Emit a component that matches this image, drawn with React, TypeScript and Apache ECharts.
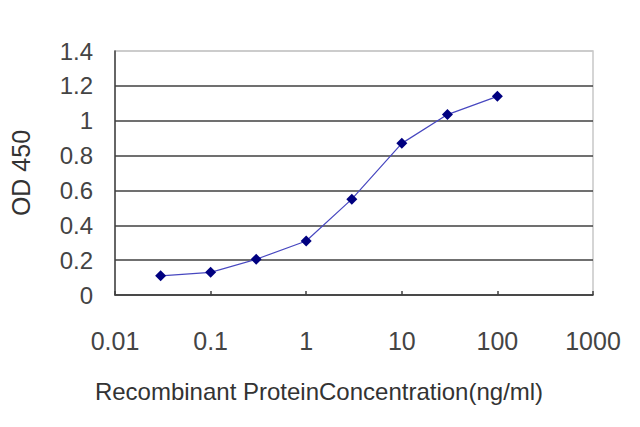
import { useEffect, useRef } from 'react';
import * as echarts from 'echarts';

const concentrations = [0.03, 0.1, 0.3, 1, 3, 10, 30, 100];
const od450 = [0.11, 0.13, 0.205, 0.31, 0.55, 0.87, 1.035, 1.14];
const yTicks = [0, 0.2, 0.4, 0.6, 0.8, 1, 1.2, 1.4];
const xTickLabels = ['0.01', '0.1', '1', '10', '100', '1000'];

export default function App() {
  const chartRef = useRef<HTMLDivElement>(null);

  useEffect(() => {
    document.body.style.margin = '0';
    if (!chartRef.current) return;
    const chart = echarts.init(chartRef.current, undefined, { renderer: 'svg' });

    const font = 'Liberation Sans, Arial, sans-serif';
    // top grid line is drawn light, like the frame
    const gridColors = yTicks.map((_, i) => (i === yTicks.length - 1 ? '#c8c8c8' : '#404040'));

    chart.setOption({
      animation: false,
      backgroundColor: '#ffffff',
      grid: {
        left: 115,
        right: 47,
        top: 51,
        bottom: 132,
        show: true,
        borderColor: '#c8c8c8',
        borderWidth: 1.5,
      },
      xAxis: {
        type: 'log',
        logBase: 10,
        min: 0.01,
        max: 1000,
        name: 'Recombinant ProteinConcentration(ng/ml)',
        nameLocation: 'middle',
        nameGap: 84,
        nameTextStyle: {
          fontFamily: font,
          fontSize: 24,
          color: '#333333',
          padding: [0, 70, 0, 0],
        },
        axisLine: { show: true, lineStyle: { color: '#404040', width: 1.5 } },
        axisTick: { show: true, inside: true, length: 4, lineStyle: { color: '#404040', width: 1.5 } },
        splitLine: { show: false },
        minorTick: { show: false },
        axisLabel: {
          margin: 33,
          fontFamily: font,
          fontSize: 25,
          color: '#444444',
          formatter: (v: number) => {
            const idx = Math.round(Math.log10(v)) + 2;
            return xTickLabels[idx] ?? '';
          },
        },
      },
      yAxis: {
        type: 'value',
        min: 0,
        max: 1.4,
        interval: 0.2,
        name: 'OD 450',
        nameLocation: 'middle',
        nameGap: 82,
        nameTextStyle: {
          fontFamily: font,
          fontSize: 25,
          color: '#333333',
        },
        axisLine: { show: true, lineStyle: { color: '#404040', width: 1.5 } },
        axisTick: { show: false },
        splitLine: { show: true, lineStyle: { color: gridColors, width: 1.5 } },
        axisLabel: {
          margin: 22,
          fontFamily: font,
          fontSize: 24,
          color: '#444444',
        },
      },
      series: [
        {
          type: 'line',
          data: concentrations.map((c, i) => [c, od450[i]]),
          symbol: 'diamond',
          symbolSize: 11,
          lineStyle: { color: '#4848c0', width: 1.2 },
          itemStyle: { color: '#000080' },
        },
      ],
    });

    return () => {
      chart.dispose();
    };
  }, []);

  return <div ref={chartRef} style={{ width: 640, height: 427 }} />;
}
